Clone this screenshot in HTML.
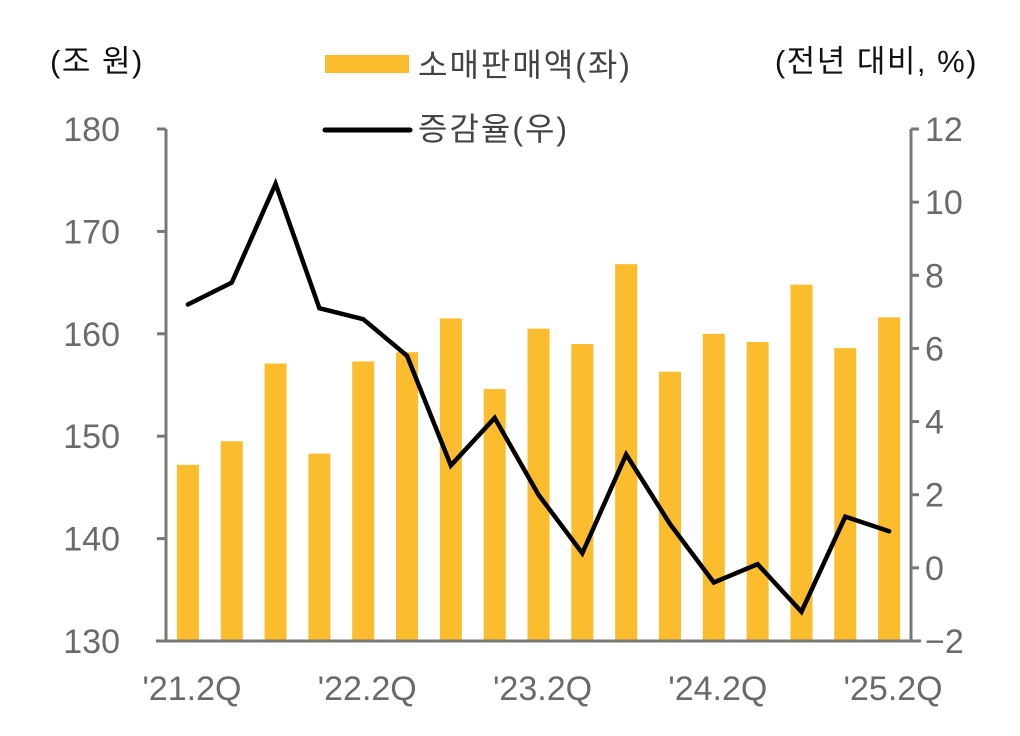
<!DOCTYPE html>
<html><head><meta charset="utf-8">
<style>
html,body{margin:0;padding:0;background:#fff;}
svg{display:block;font-family:"Liberation Sans","Noto Sans CJK KR",sans-serif;}
</style></head>
<body>
<svg id="chart" width="1020" height="736" viewBox="0 0 1020 736">
  <text x="50" y="72" font-size="31" letter-spacing="1.5" fill="#111">(조 원)</text>
  <text x="978" y="72" font-size="31" letter-spacing="1.5" fill="#111" text-anchor="end">(전년 대비, %)</text>
  <rect x="325" y="55" width="84" height="18" fill="#FBBC2D"/>
  <text x="418" y="76" font-size="32" letter-spacing="2" fill="#444">소매판매액(좌)</text>
  <line x1="325" y1="130" x2="410" y2="130" stroke="#000" stroke-width="5" stroke-linecap="round"/>
  <text x="418" y="140" font-size="32" letter-spacing="2" fill="#444">증감율(우)</text>
  <g id="bars"></g>
  <g id="axes"></g>
  <g id="line"></g>
</svg>
<script>
const categories = ["'21.2Q","'21.3Q","'21.4Q","'22.1Q","'22.2Q","'22.3Q","'22.4Q","'23.1Q","'23.2Q","'23.3Q","'23.4Q","'24.1Q","'24.2Q","'24.3Q","'24.4Q","'25.1Q","'25.2Q"];
const retail = [147.2,149.5,157.1,148.3,157.3,158.2,161.5,154.6,160.5,159.0,166.8,156.3,160.0,159.2,164.8,158.6,161.6];
const growth = [7.2,7.8,10.5,7.1,6.8,5.8,2.8,4.1,2.0,0.4,3.1,1.2,-0.4,0.1,-1.2,1.4,1.0];
const leftTicks = [130,140,150,160,170,180];
const rightTicks = [-2,0,2,4,6,8,10,12];
const labelEvery = 4;

const NS="http://www.w3.org/2000/svg";
const X0=166, X1=911, Y0=641, Y1=129;
const slot=(X1-X0)/categories.length;
const xC=i=>X0+slot*(i+0.5);
const yL=v=>Y0-(v-130)/(180-130)*(Y0-Y1);
const yR=v=>Y0-(v+2)/(12+2)*(Y0-Y1);
function mk(tag,attrs,parent){const e=document.createElementNS(NS,tag);for(const k in attrs)e.setAttribute(k,attrs[k]);parent.appendChild(e);return e;}

const gb=document.getElementById('bars');
retail.forEach((v,i)=>{
  const r=mk('rect',{x:xC(i)-11,y:yL(v),width:22,height:Y0-yL(v),fill:'#FBBC2D'},gb);
  
  
});

const ga=document.getElementById('axes');
const st={stroke:'#777','stroke-width':3,fill:'none'};
let a=mk('line',Object.assign({x1:X0,y1:Y1,x2:X0,y2:Y0},st),ga);


a=mk('line',Object.assign({x1:X1,y1:Y1,x2:X1,y2:Y0},st),ga);


a=mk('line',Object.assign({x1:156,y1:Y0,x2:921,y2:Y0},st),ga);


leftTicks.forEach(t=>{
  mk('line',Object.assign({x1:157,y1:yL(t),x2:X0,y2:yL(t)},st),ga);
  const tx=mk('text',{x:120,y:yL(t)+12,'font-size':34,fill:'#6a6a6a','text-anchor':'end'},ga);
  tx.textContent=t;
  
  
});
rightTicks.forEach(t=>{
  mk('line',Object.assign({x1:X1,y1:yR(t),x2:X1+8,y2:yR(t)},st),ga);
  const tx=mk('text',{x:925,y:yR(t)+12,'font-size':34,fill:'#6a6a6a'},ga);
  tx.textContent=t<0?'\u2212'+(-t):t;
  
  
});
categories.forEach((c,i)=>{
  if(i%labelEvery!==0)return;
  const tx=mk('text',{x:xC(i)+4,y:700,'font-size':34,fill:'#6a6a6a','text-anchor':'middle'},ga);
  tx.textContent=c;
  
  
});

const gl=document.getElementById('line');
const pts=growth.map((v,i)=>xC(i)+','+yR(v)).join(' ');
const pl=mk('polyline',{points:pts,fill:'none',stroke:'#000','stroke-width':4.5,'stroke-linejoin':'miter','stroke-linecap':'round'},gl);


</script>
</body></html>
